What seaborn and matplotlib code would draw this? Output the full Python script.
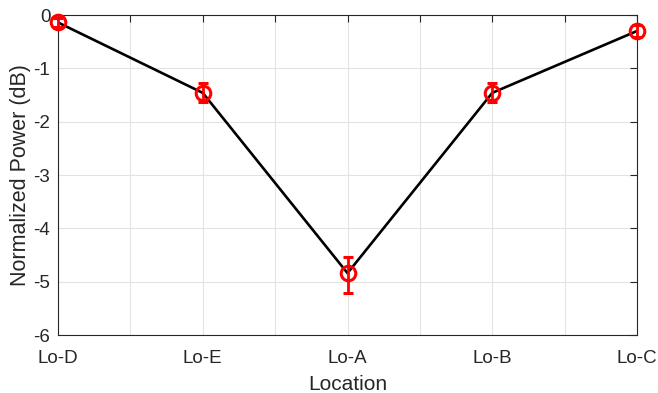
import matplotlib
matplotlib.use("Agg")
import matplotlib.pyplot as plt
import seaborn as sns
import numpy as np
import pandas as pd

locations = ["Lo-D", "Lo-E", "Lo-A", "Lo-B", "Lo-C"]
power_db = [-0.14, -1.46, -4.84, -1.46, -0.30]
err_low = [0.08, 0.18, 0.37, 0.18, 0.12]
err_high = [0.08, 0.18, 0.30, 0.18, 0.12]

sns.set_style("white")
plt.rcParams['font.family'] = ['Liberation Sans', 'DejaVu Sans']
plt.rcParams['axes.unicode_minus'] = False

fig = plt.figure(figsize=(6.58, 3.93), dpi=100)
ax = fig.add_axes([58/658, 1 - 335/393, (637-58)/658, (335-15)/393])

pos = np.arange(len(locations))
df = pd.DataFrame({"pos": pos, "power": power_db})
sns.lineplot(data=df, x="pos", y="power", color="black", linewidth=1.9, ax=ax, zorder=3)
eb = ax.errorbar(pos, power_db, yerr=[err_low, err_high], fmt='o', ms=10.5, mfc='none',
                 mec='red', mew=2.2, ecolor='red', elinewidth=2, capsize=3.5, capthick=2, zorder=4)
for artist in eb.lines[0:1] + tuple(eb.lines[1]) + tuple(eb.lines[2]):
    artist.set_clip_on(False)

ax.set_xlim(0, 4)
ax.set_ylim(-6, 0)
ticks = np.arange(0, 4.01, 0.5)
ax.set_xticks(ticks)
ax.set_xticklabels([locations[int(t)] if float(t).is_integer() else "" for t in ticks])
ax.set_yticks(np.arange(-6, 0.01, 1))
ax.set_yticklabels([str(int(v)) for v in np.arange(-6, 0.01, 1)])
ax.grid(True, color="#e3e3e3", linewidth=0.8)
ax.set_axisbelow(True)
for s in ax.spines.values():
    s.set_visible(True)
    s.set_color("#262626")
    s.set_linewidth(0.8)
ax.tick_params(direction='in', length=5, width=0.8, color="#262626", top=True, right=True,
               labelsize=13.5, labelcolor="#262626")
ax.tick_params(axis='x', pad=10.5)
ax.tick_params(axis='y', pad=5.5)
ax.set_xlabel("Location", fontsize=15, color="#262626", labelpad=6)
ax.set_ylabel("Normalized Power (dB)", fontsize=15.5, color="#262626", labelpad=2)

fig.savefig("out.png", dpi=100)
